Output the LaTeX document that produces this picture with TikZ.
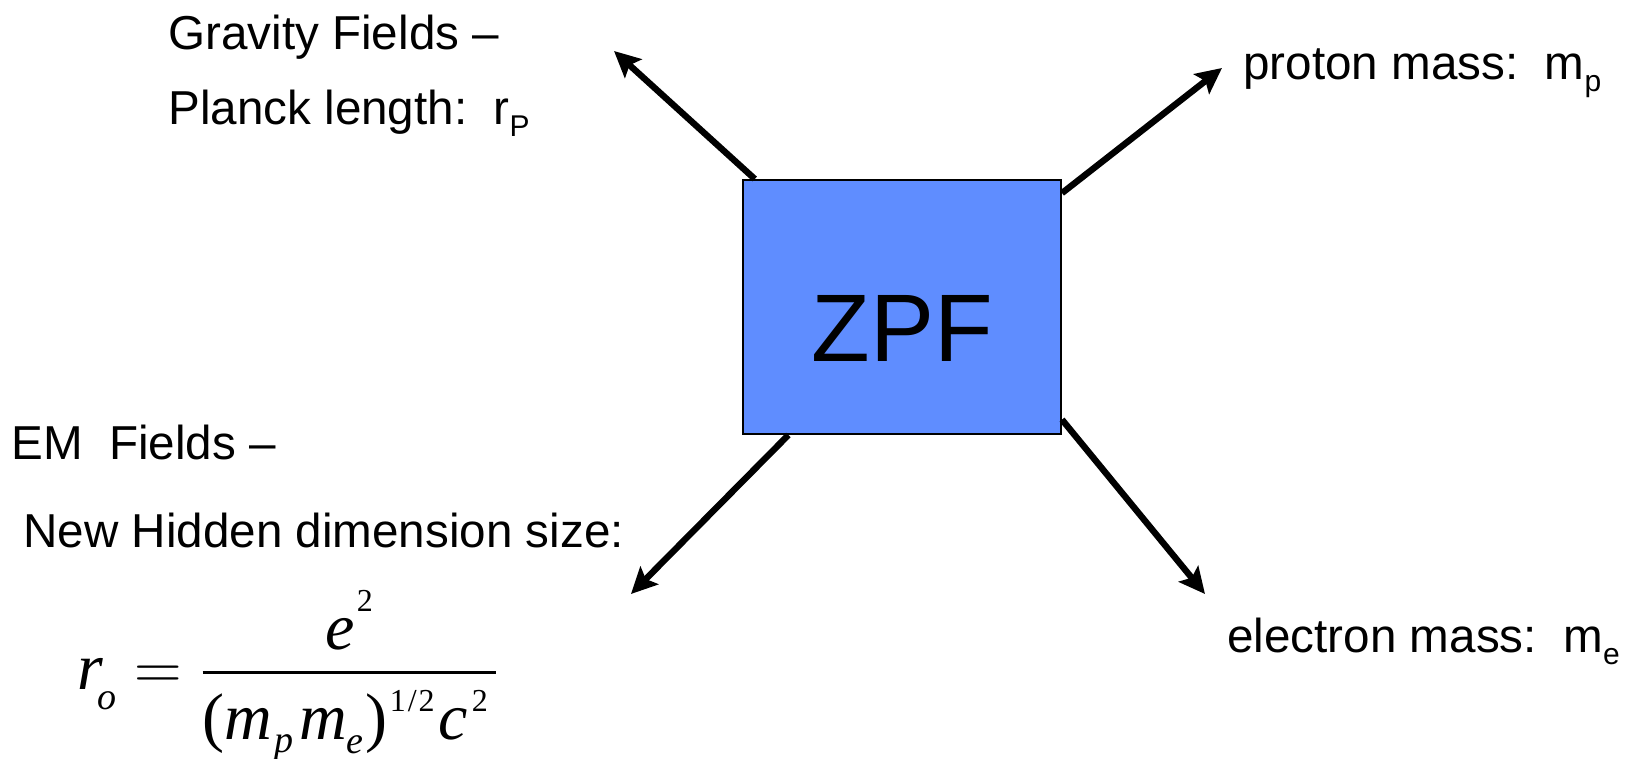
\RequirePackage{fix-cm}
\documentclass[tikz,border=0pt]{standalone}
\usepackage{fontspec}
\setmainfont{Liberation Sans}
\newfontfamily\eqfont{Liberation Serif}
\usetikzlibrary{arrows.meta, calc}
\definecolor{zpfblue}{HTML}{5F8DFF}

\newcommand{\labsub}[1]{\raisebox{-6pt}{\fontsize{15}{15}\selectfont #1}}
\newcommand{\eqsub}[2]{\raisebox{-#1}{\fontsize{19}{19}\selectfont\itshape #2}}
\newcommand{\eqsup}[2]{\raisebox{#1}{\fontsize{16}{16}\selectfont\upshape #2}}

\begin{document}
\begin{tikzpicture}[x=0.5pt, y=-0.5pt,
  lbl/.style={anchor=base west, inner sep=0pt, font=\fontsize{23.8}{28}\selectfont},
  field/.style={draw=black, line width=1pt, fill=zpfblue, minimum width=159pt,
                minimum height=127pt, font=\fontsize{48}{56}\selectfont,
                text height=55pt, text depth=0pt},
  arr/.style={-{Stealth[length=13pt, width=12.5pt, inset=2.5pt]}, line width=3.2pt}
]
  \useasboundingbox (0,0) rectangle (1629,759);

  % Field box
  \node[field] (zpf) at (902,307) {ZPF};

  % Labels
  \node[lbl] (grav)     at (168,50)  {Gravity Fields –};
  \node[lbl] (planck)   at (168,125) {Planck length:\ \ r\labsub{P}};
  \node[lbl] (proton)   at (1243,80) {proton mass:\ \ m\labsub{p}};
  \node[lbl] (electron) at (1227,652) {electron mass:\ \ m\labsub{e}};
  \node[lbl] (em)       at (11,459)  {EM\ \ Fields –};
  \node[lbl] (hidden)   at (23,547)  {New Hidden dimension size:};

  % Hidden dimension size
  \node[anchor=base west, inner sep=0pt, font=\eqfont\fontsize{33}{40}\selectfont]
    (ro) at (77,689) {$\displaystyle
      \mbox{\itshape r\kern-3pt\eqsub{10pt}{o}} =
      {\raisebox{-2.5pt}{\itshape e\kern1pt\eqsup{19pt}{2}}
       \above 1.2pt
       \raisebox{-2.5pt}{(\itshape m\kern1pt\eqsub{6.5pt}{p}\kern3pt m\eqsub{7pt}{e}\kern1pt\upshape)\kern1pt\eqsup{14pt}{1\kern1pt/\kern1pt2}\kern2pt\itshape c\kern2pt\eqsup{14pt}{2}\kern4pt}}$};

  % Arrows out of the field
  \coordinate (gravtip)     at (614,51);
  \coordinate (protontip)   at (1222,68);
  \coordinate (hiddentip)   at (631,594);
  \coordinate (electrontip) at (1205,594);

  \draw[arr] ($(zpf.north west)!0.04!(zpf.north east)$) -- (gravtip);
  \draw[arr] ($(zpf.north east)!0.055!(zpf.south east)$) -- (protontip);
  \draw[arr] ($(zpf.south west)!0.145!(zpf.south east)$) -- (hiddentip);
  \draw[arr] ($(zpf.north east)!0.94!(zpf.south east)$) -- (electrontip);
\end{tikzpicture}
\end{document}
